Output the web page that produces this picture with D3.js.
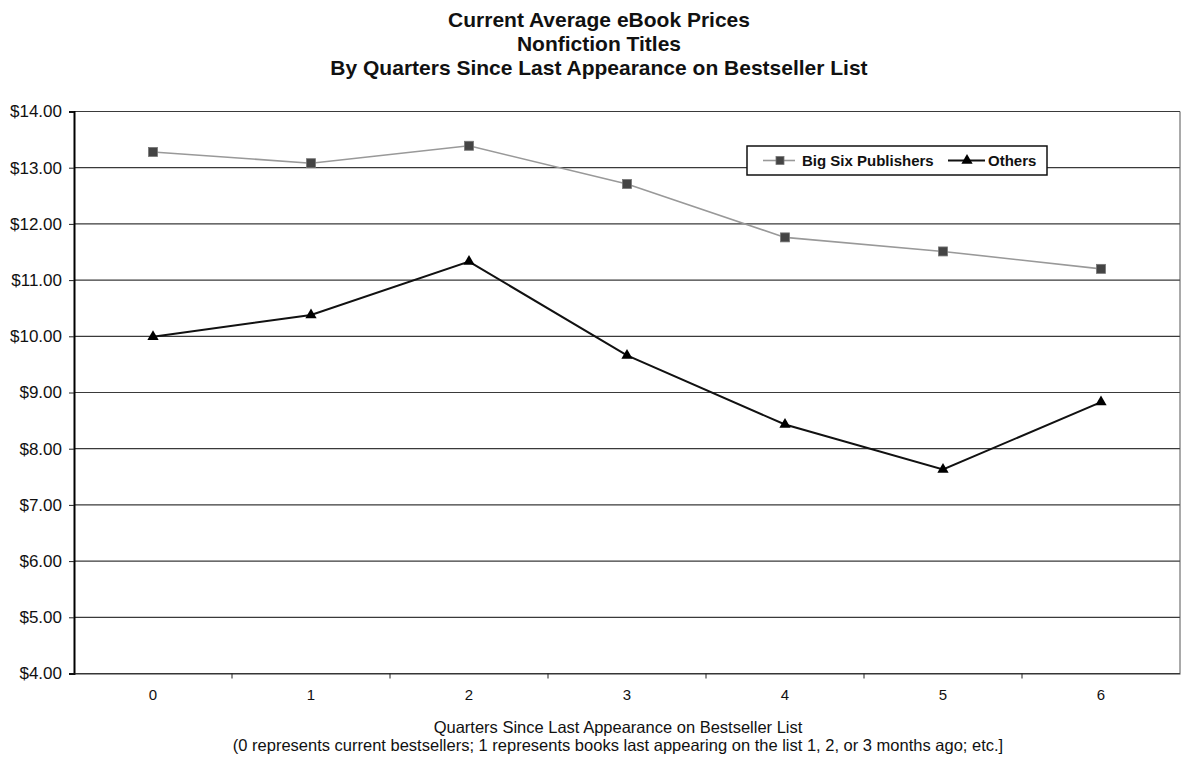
<!DOCTYPE html>
<html>
<head>
<meta charset="utf-8">
<script src="https://cdn.jsdelivr.net/npm/d3@7"></script>
<style>
  html, body { margin: 0; padding: 0; background: #fff; }
  svg { display: block; }
  text { font-family: "Liberation Sans", Arial, sans-serif; fill: #111; }
</style>
</head>
<body>
<svg id="chart" width="1185" height="760"></svg>
<script>
const categories = ["0", "1", "2", "3", "4", "5", "6"];
const bigSix = [13.28, 13.08, 13.39, 12.71, 11.76, 11.51, 11.20];
const others = [9.99, 10.38, 11.33, 9.66, 8.43, 7.63, 8.83];
const yTicks = [4, 5, 6, 7, 8, 9, 10, 11, 12, 13, 14];
const titleLines = ["Current Average eBook Prices", "Nonfiction Titles", "By Quarters Since Last Appearance on Bestseller List"];
const xTitleLines = ["Quarters Since Last Appearance on Bestseller List",
  "(0 represents current bestsellers; 1 represents books last appearing on the list 1, 2, or 3 months ago; etc.]"];
const seriesNames = ["Big Six Publishers", "Others"];

const svg = d3.select("#chart");
const pLeft = 74, pRight = 1180, pTop = 111.5, pBottom = 673.5;

const x = d3.scaleBand().domain(categories).range([pLeft, pRight]).padding(0);
const y = d3.scaleLinear().domain([4, 14]).range([pBottom, pTop]);

// Title
svg.append("g").selectAll("text").data(titleLines).join("text")
  .attr("x", 599).attr("y", (d, i) => 26.5 + i * 24)
  .attr("text-anchor", "middle")
  .style("font-size", "21px").style("font-weight", "bold")
  .text(d => d);

// Gridlines
svg.append("g").selectAll("line").data(yTicks).join("line")
  .attr("x1", pLeft).attr("x2", pRight)
  .attr("y1", d => y(d)).attr("y2", d => y(d))
  .attr("stroke", "#3a3a3a").attr("stroke-width", 1.2);

// Right border
svg.append("line").attr("x1", pRight).attr("x2", pRight).attr("y1", pTop).attr("y2", pBottom)
  .attr("stroke", "#555").attr("stroke-width", 1);

// Y axis
const yAxis = d3.axisLeft(y).tickValues(yTicks).tickSize(5).tickPadding(7)
  .tickFormat(d => "$" + d3.format(".2f")(d));
const yg = svg.append("g").attr("transform", `translate(${pLeft},0)`).call(yAxis);
yg.select(".domain").attr("stroke", "#000").attr("stroke-width", 2);
yg.selectAll(".tick line").attr("stroke", "#222");
yg.selectAll(".tick text").style("font-size", "17px").style("font-family", "Liberation Sans, Arial").attr("fill", "#111");

// X axis
const xAxis = d3.axisBottom(x).tickSize(0).tickPadding(16);
const xg = svg.append("g").attr("transform", `translate(0,${pBottom})`).call(xAxis);
xg.select(".domain").attr("stroke", "#333").attr("stroke-width", 1.2);
xg.selectAll(".tick text").style("font-size", "15px").style("font-family", "Liberation Sans, Arial").attr("fill", "#111");
// category boundary ticks
svg.append("g").selectAll("line").data(categories.slice(1)).join("line")
  .attr("x1", d => x(d)).attr("x2", d => x(d))
  .attr("y1", pBottom).attr("y2", pBottom + 5)
  .attr("stroke", "#222");

// X title
svg.append("g").selectAll("text").data(xTitleLines).join("text")
  .attr("x", 618).attr("y", (d, i) => 733 + i * 18)
  .attr("text-anchor", "middle")
  .style("font-size", "16.5px")
  .text(d => d);

const cx = d => x(d) + x.bandwidth() / 2;
const line = d3.line().x((d, i) => cx(categories[i])).y(d => y(d));

// Big Six series
svg.append("path").datum(bigSix).attr("d", line)
  .attr("fill", "none").attr("stroke", "#999").attr("stroke-width", 1.6);
svg.append("g").selectAll("rect").data(bigSix).join("rect")
  .attr("x", (d, i) => cx(categories[i]) - 4.5).attr("y", d => y(d) - 4.5)
  .attr("width", 9).attr("height", 9)
  .attr("fill", "#444").attr("stroke", "#777").attr("stroke-width", 0.8);

// Others series
const tri = d3.symbol().type(d3.symbolTriangle).size(55);
svg.append("path").datum(others).attr("d", line)
  .attr("fill", "none").attr("stroke", "#111").attr("stroke-width", 2);
svg.append("g").selectAll("path").data(others).join("path")
  .attr("d", tri)
  .attr("transform", (d, i) => `translate(${cx(categories[i])},${y(d)})`)
  .attr("fill", "#000");

// Legend
const lg = svg.append("g");
lg.append("rect").attr("x", 747).attr("y", 146).attr("width", 300).attr("height", 29)
  .attr("fill", "#fff").attr("stroke", "#111").attr("stroke-width", 1.5);
lg.append("line").attr("x1", 763).attr("x2", 795).attr("y1", 160.5).attr("y2", 160.5)
  .attr("stroke", "#999").attr("stroke-width", 1.6);
lg.append("rect").attr("x", 776).attr("y", 156.5).attr("width", 8).attr("height", 8)
  .attr("fill", "#444").attr("stroke", "#777").attr("stroke-width", 0.8);
lg.append("text").attr("x", 802).attr("y", 166).style("font-size", "15px").style("font-weight", "bold")
  .text(seriesNames[0]);
lg.append("line").attr("x1", 948).attr("x2", 985).attr("y1", 160.5).attr("y2", 160.5)
  .attr("stroke", "#111").attr("stroke-width", 2);
lg.append("path").attr("d", tri).attr("transform", "translate(967,160.5)").attr("fill", "#000");
lg.append("text").attr("x", 988).attr("y", 166).style("font-size", "15px").style("font-weight", "bold")
  .text(seriesNames[1]);
</script>
</body>
</html>
